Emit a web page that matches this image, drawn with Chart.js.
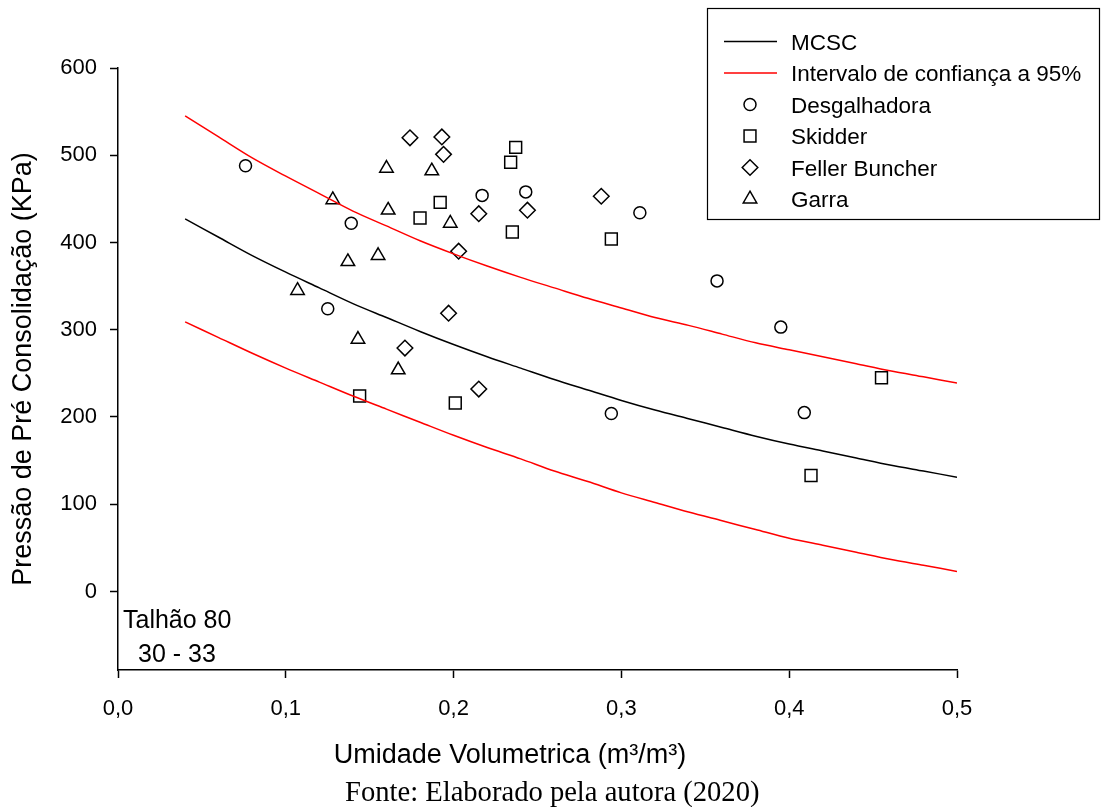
<!DOCTYPE html>
<html lang="pt-BR">
<head>
<meta charset="UTF-8">
<title>Pressão de Pré Consolidação - Talhão 80</title>
<script src="https://cdn.jsdelivr.net/npm/chart.js@4.4.1/dist/chart.umd.min.js"></script>
<style>
  html, body { margin: 0; padding: 0; background: #fff; }
  #wrap { width: 1102px; height: 807px; position: relative; }
</style>
</head>
<body>
<div id="wrap"><canvas id="grafico"></canvas></div>
<script>
// curva MCSC e intervalo de confiança
const curvaX = [0.04, 0.06, 0.08, 0.10, 0.12, 0.14, 0.16, 0.18, 0.20, 0.22, 0.24, 0.26,
                0.28, 0.30, 0.32, 0.34, 0.36, 0.38, 0.40, 0.42, 0.44, 0.46, 0.48, 0.50];
const mcsc = [427, 406, 385, 366, 348, 330, 314, 298, 283, 269, 256, 243,
              231, 219, 208, 198, 188, 178, 169, 161, 153, 145, 138, 131];
const icSuperior = [545, 521, 497, 476, 456, 436, 419, 402, 387, 373, 360, 348,
                    336, 325, 314, 305, 295, 285, 277, 269, 261, 253, 246, 239];
const icInferior = [309, 291, 273, 256, 240, 224, 209, 194, 179, 165, 152, 138,
                    126, 113, 102, 91, 81, 71, 61, 53, 45, 37, 30, 23];

// pontos medidos
const desgalhadoraX = [0.076, 0.139, 0.125, 0.217, 0.243, 0.294, 0.311, 0.357, 0.395, 0.409];
const desgalhadoraY = [488, 422, 324, 454, 458, 204, 434, 356, 303, 205];

const skidderX = [0.237, 0.234, 0.192, 0.180, 0.235, 0.294, 0.144, 0.201, 0.455, 0.413];
const skidderY = [509, 492, 446, 428, 412, 404, 224, 216, 245, 133];

const fellerX = [0.174, 0.193, 0.194, 0.215, 0.244, 0.288, 0.203, 0.197, 0.171, 0.215];
const fellerY = [520, 521, 501, 433, 437, 453, 390, 319, 279, 232];

const garraX = [0.160, 0.128, 0.161, 0.137, 0.155, 0.107, 0.187, 0.198, 0.143, 0.167];
const garraY = [485, 449, 437, 378, 385, 345, 482, 422, 289, 254];

const ticksX = [0, 0.1, 0.2, 0.3, 0.4, 0.5];
const ticksY = [0, 100, 200, 300, 400, 500, 600];

const fonteArial = 'Arial, "Liberation Sans", sans-serif';
const fonteTimes = '"Times New Roman", "Liberation Serif", serif';

function pares(xs, ys) {
    return xs.map((x, i) => ({ x: x, y: ys[i] }));
}

function serieCurva(label, ys, cor, semLegenda) {
    return {
        label: label,
        data: pares(curvaX, ys),
        showLine: true,
        borderColor: cor,
        borderWidth: 1.5,
        pointRadius: 0,
        tension: 0.3,
        fill: false,
        semLegenda: semLegenda
    };
}

function seriePontos(label, xs, ys, estilo, raio) {
    return {
        label: label,
        data: pares(xs, ys),
        showLine: false,
        pointStyle: estilo,
        pointRadius: raio,
        borderColor: '#000',
        backgroundColor: 'rgba(0,0,0,0)',
        borderWidth: 1.5
    };
}

// legenda, título do eixo x e textos soltos
const textosExtras = {
    id: 'textosExtras',
    afterDraw(chart) {
        const ctx = chart.ctx;
        ctx.save();

        // título do eixo x
        ctx.fillStyle = '#000';
        ctx.font = '27px ' + fonteArial;
        ctx.textAlign = 'center';
        ctx.textBaseline = 'alphabetic';
        ctx.fillText('Umidade Volumetrica (m³/m³)', 510, 763);

        // fonte
        ctx.font = '28.6px ' + fonteTimes;
        ctx.textAlign = 'left';
        ctx.fillText('Fonte: Elaborado pela autora (2020)', 345, 801);

        // talhão
        ctx.font = '25px ' + fonteArial;
        ctx.fillText('Talhão 80', 123, 628);
        ctx.fillText('30 - 33', 138, 662);

        // caixa da legenda
        ctx.strokeStyle = '#000';
        ctx.lineWidth = 1.2;
        ctx.strokeRect(707.5, 8.5, 392, 211);

        ctx.font = '22.5px ' + fonteArial;
        let linha = 0;
        chart.data.datasets.forEach(ds => {
            if (ds.semLegenda) return;
            const y = 41.5 + 31.5 * linha;
            if (ds.showLine) {
                ctx.strokeStyle = ds.borderColor;
                ctx.lineWidth = 1.5;
                ctx.beginPath();
                ctx.moveTo(724, y);
                ctx.lineTo(777, y);
                ctx.stroke();
            } else {
                ctx.fillStyle = 'rgba(0,0,0,0)';
                ctx.strokeStyle = '#000';
                ctx.lineWidth = ds.borderWidth;
                Chart.helpers.drawPoint(ctx, {
                    pointStyle: ds.pointStyle,
                    radius: ds.pointRadius,
                    borderWidth: ds.borderWidth,
                    rotation: 0
                }, 750, y);
            }
            ctx.fillStyle = '#000';
            ctx.fillText(ds.label, 791, y + 8);
            linha++;
        });

        ctx.restore();
    }
};

const ctx = document.getElementById('grafico').getContext('2d');
const chart = new Chart(ctx, {
    type: 'scatter',
    data: {
        datasets: [
            serieCurva('MCSC', mcsc, '#000000', false),
            serieCurva('Intervalo de confiança a 95%', icSuperior, '#ff0000', false),
            serieCurva('Intervalo de confiança a 95% (inferior)', icInferior, '#ff0000', true),
            seriePontos('Desgalhadora', desgalhadoraX, desgalhadoraY, 'circle', 6),
            seriePontos('Skidder', skidderX, skidderY, 'rect', 8.4),
            seriePontos('Feller Buncher', fellerX, fellerY, 'rectRot', 7.8),
            seriePontos('Garra', garraX, garraY, 'triangle', 7.8)
        ]
    },
    options: {
        responsive: true,
        maintainAspectRatio: false,
        animation: false,
        layout: {
            padding: { left: 0, top: 68, right: 145, bottom: 37 }
        },
        plugins: {
            legend: { display: false },
            tooltip: { enabled: false }
        },
        scales: {
            x: {
                type: 'linear',
                min: 0,
                max: 0.5,
                afterBuildTicks: scale => { scale.ticks = ticksX.map(v => ({ value: v })); },
                afterFit: scale => { scale.height = 100; },
                grid: {
                    drawOnChartArea: false,
                    drawTicks: true,
                    tickLength: 8,
                    tickColor: '#000',
                    tickWidth: 1.5
                },
                border: { display: true, color: '#000', width: 1.5 },
                ticks: {
                    color: '#000',
                    padding: 18,
                    maxRotation: 0,
                    font: { family: fonteArial, size: 22 },
                    callback: v => v.toFixed(1).replace('.', ',')
                }
            },
            y: {
                type: 'linear',
                min: -90,
                max: 600,
                afterBuildTicks: scale => { scale.ticks = ticksY.map(v => ({ value: v })); },
                afterFit: scale => { scale.width = 118; },
                grid: {
                    drawOnChartArea: false,
                    drawTicks: true,
                    tickLength: 8,
                    tickColor: '#000',
                    tickWidth: 1.5
                },
                border: { display: true, color: '#000', width: 1.5 },
                ticks: {
                    color: '#000',
                    padding: 13,
                    font: { family: fonteArial, size: 22 },
                    callback: v => String(v)
                },
                title: {
                    display: true,
                    text: 'Pressão de Pré Consolidação (KPa)',
                    color: '#000',
                    padding: { top: 7, bottom: 0 },
                    font: { family: fonteArial, size: 27 }
                }
            }
        }
    },
    plugins: [textosExtras]
});
</script>
</body>
</html>
